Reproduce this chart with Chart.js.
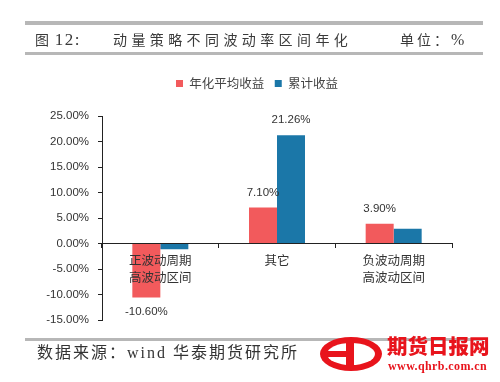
<!DOCTYPE html>
<html><head><meta charset="utf-8">
<script src="https://cdn.jsdelivr.net/npm/chart.js@4"></script>
<style>
html,body{margin:0;padding:0;background:#fff;}
#wrap{position:relative;width:500px;height:382px;overflow:hidden;background:#fff;}
canvas{position:absolute;left:0;top:0;}
.line{position:absolute;background:#b7b7b7;}
.t{position:absolute;white-space:nowrap;color:#3a3a3a;line-height:1;}
</style></head><body>
<div id="wrap">
<canvas id="c" width="500" height="382"></canvas>
<div class="line" style="left:25px;top:21px;width:458px;height:4px"></div>
<div class="line" style="left:25px;top:52px;width:458px;height:3px"></div>
<div class="t" style="left:35px;top:31px;font-size:14px;"><span style="font-family:'Noto Sans CJK SC'">图</span><span style="font-family:'Liberation Serif';font-size:17px;letter-spacing:1.5px"> 12:</span></div>
<div class="t" style="left:113px;top:32px;font-size:14px;font-family:'Noto Sans CJK SC';letter-spacing:4.4px">动量策略不同波动率区间年化</div>
<div class="t" style="left:400px;top:32px;font-size:14px;font-family:'Noto Sans CJK SC';letter-spacing:3px">单位：<span style="font-family:'Liberation Serif';font-size:16px">%</span></div>
<div class="line" style="left:25px;top:338px;width:458px;height:3px"></div>
<div class="t" style="left:37px;top:345px;font-size:16px;font-family:'Liberation Serif','Noto Sans CJK SC';letter-spacing:2px;color:#333">数据来源：wind 华泰期货研究所</div>
<div style="position:absolute;left:320px;top:337px;width:62px;height:34px;border-radius:50%;background:#e8141c;"></div>
<div style="position:absolute;left:327px;top:343px;width:48px;height:22px;border-radius:50%;background:#fff;"></div>
<div style="position:absolute;left:346px;top:338px;width:8px;height:32px;background:#e8141c;"></div>
<div style="position:absolute;left:326px;top:351px;width:28px;height:6px;background:#e8141c;"></div>
<div class="t" style="left:387px;top:335px;font-size:20.5px;font-weight:900;font-family:'Noto Sans CJK SC';color:#e8141c;">期货日报网</div>
<div class="t" style="left:388px;top:360px;font-size:12px;font-weight:bold;font-family:'Liberation Serif';color:#e8141c;letter-spacing:0.4px">www.qhrb.com.cn</div>
</div>
<script>
const categories = [['正波动周期','高波动区间'], '其它', ['负波动周期','高波动区间']];
const seriesNames = ['年化平均收益', '累计收益'];
const annualReturn = [-10.60, 7.10, 3.90];
const cumulativeReturn = [-1.1, 21.26, 2.9];
const annualLabelShown = [true, true, true];
const cumulativeLabelShown = [false, true, false];
const yTickValues = [-15, -10, -5, 0, 5, 10, 15, 20, 25];

const RED = '#f25a5c';
const BLUE = '#1b77a8';
const AXIS = '#222';
const labelShown = [annualLabelShown, cumulativeLabelShown];

const legendSpacer = {
  id: 'legendSpacer',
  beforeInit(chart) {
    const lg = chart.legend;
    if (!lg) return;
    const fit = lg.fit;
    lg.fit = function () { fit.call(this); this.height += 16.45; };
  },
  afterLayout(chart) {
    const lg = chart.legend;
    if (!lg) return;
    lg.left += 31; lg.right += 31;
  }
};

const barLabels = {
  id: 'barLabels',
  afterDatasetsDraw(chart) {
    const ctx = chart.ctx;
    ctx.save();
    ctx.font = "11.5px 'Liberation Sans'";
    ctx.fillStyle = '#333';
    ctx.textAlign = 'center';
    ctx.textBaseline = 'middle';
    chart.data.datasets.forEach((ds, di) => {
      const shown = labelShown[di];
      chart.getDatasetMeta(di).data.forEach((bar, j) => {
        if (!shown[j]) return;
        const v = ds.data[j];
        const y = v >= 0 ? bar.y - 15 : bar.y + 14;
        ctx.fillText(v.toFixed(2) + '%', bar.x, y);
      });
    });
    ctx.restore();
  }
};

new Chart(document.getElementById('c'), {
  type: 'bar',
  data: {
    labels: categories,
    datasets: [
      { label: seriesNames[0], data: annualReturn, backgroundColor: RED, borderWidth: 0, barPercentage: 1, categoryPercentage: 0.48 },
      { label: seriesNames[1], data: cumulativeReturn, backgroundColor: BLUE, borderWidth: 0, barPercentage: 1, categoryPercentage: 0.48 }
    ]
  },
  options: {
    responsive: false,
    animation: false,
    devicePixelRatio: 1,
    layout: { padding: { left: 0, right: 48, top: 66.75, bottom: 62 } },
    plugins: {
      legend: {
        position: 'top',
        labels: { boxWidth: 7, boxHeight: 7, padding: 10.5, color: '#444', font: { size: 12.5, family: "'Noto Sans CJK SC'" } }
      },
      tooltip: { enabled: false }
    },
    scales: {
      x: {
        position: { y: 0 },
        offset: true,
        grid: { display: true, drawOnChartArea: false, drawTicks: true, tickLength: 4, color: AXIS, offset: true, z: 1 },
        border: { display: true, color: AXIS, width: 1, z: 1 },
        ticks: { z: 1, color: '#333', padding: 5, maxRotation: 0, autoSkip: false, font: { size: 12.5, family: "'Noto Sans CJK SC'", lineHeight: 1.3 } },
        afterFit(s) { s.height = 0; }
      },
      y: {
        min: -15, max: 25,
        afterBuildTicks(s) { s.ticks = yTickValues.map(v => ({ value: v })); },
        grid: { drawOnChartArea: false, drawTicks: true, tickLength: 4, color: AXIS },
        border: { display: true, color: AXIS, width: 1 },
        ticks: { color: '#333', padding: 9, font: { size: 11.5, family: "'Liberation Sans'" }, callback: v => Number(v).toFixed(2) + '%' },
        afterFit(s) { s.width = 102; }
      }
    }
  },
  plugins: [legendSpacer, barLabels]
});
</script>
</body></html>
